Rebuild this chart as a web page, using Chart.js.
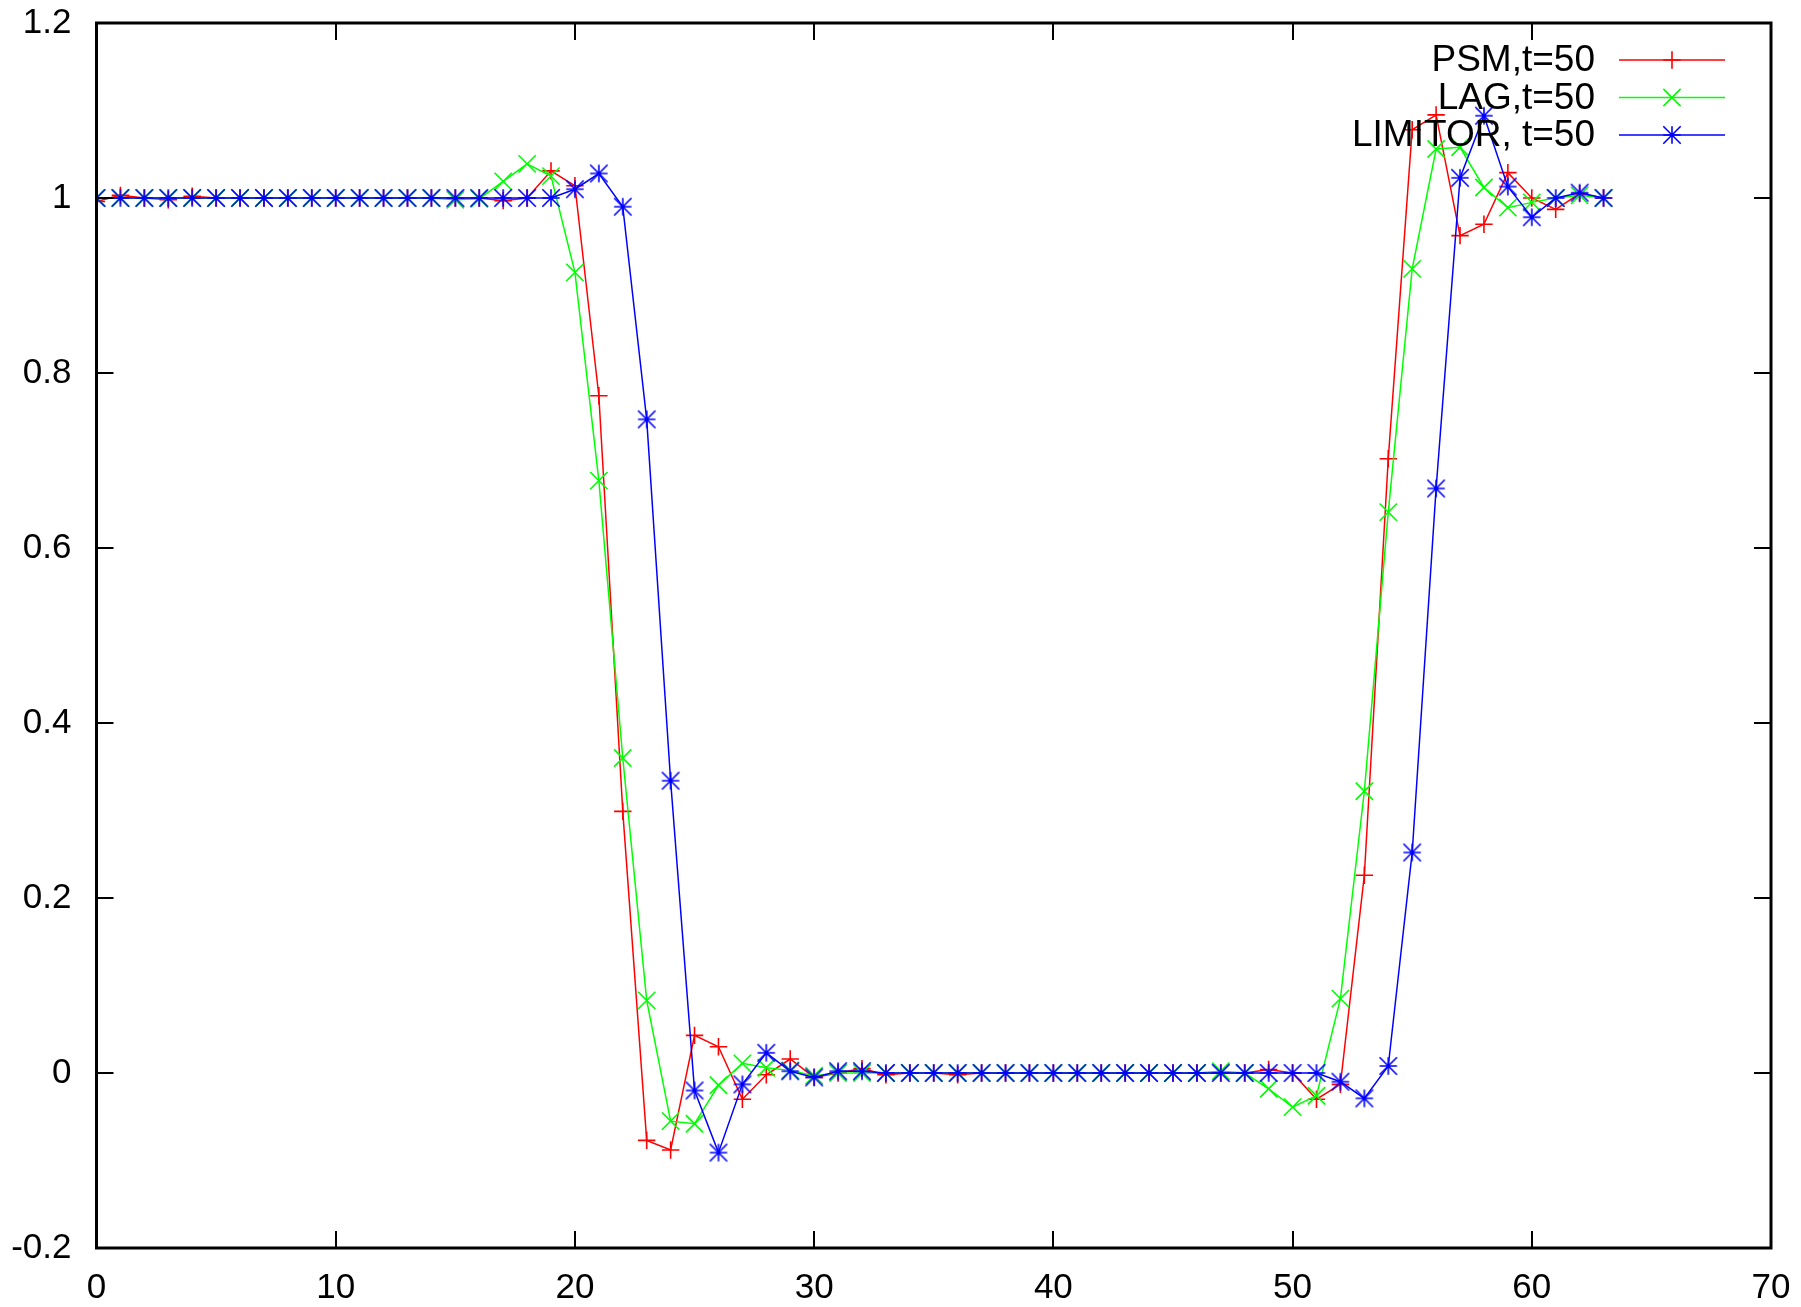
<!DOCTYPE html>
<html>
<head>
<meta charset="utf-8">
<title>PSM / LAG / LIMITOR t=50</title>
<script src="https://cdn.jsdelivr.net/npm/chart.js@4.4.1/dist/chart.umd.min.js"></script>
<style>
  html, body { margin: 0; padding: 0; background: #fff; }
  canvas { display: block; }
</style>
</head>
<body>
<canvas id="grafico" width="1801" height="1307"></canvas>
<script>
// datos (x = 0..63)
const xs = [];
for (let i = 0; i <= 63; i++) xs.push(i);

const psm = [
  0.996, 1.003, 1.0, 0.998, 1.002, 1.0, 1.0, 1.0, 1.0, 1.0,
  1.0, 1.0, 1.0, 1.0, 1.0, 1.0, 1.0, 0.997, 1.0, 1.031,
  1.014, 0.774, 0.299, -0.077, -0.088, 0.043, 0.030, -0.030, -0.002, 0.016,
  -0.005, 0.0, 0.005, -0.002, 0.0, 0.0, -0.002, 0.0, 0.0, 0.0,
  0.0, 0.0, 0.0, 0.0, 0.0, 0.0, 0.0, 0.0, 0.0, 0.004,
  0.0, -0.030, -0.013, 0.226, 0.702, 1.078, 1.095, 0.957, 0.970, 1.029,
  1.0, 0.987, 1.005, 1.0
];

const lag = [
  1.0, 1.0, 1.0, 1.0, 1.0, 1.0, 1.0, 1.0, 1.0, 1.0,
  1.0, 1.0, 1.0, 1.0, 1.0, 0.998, 0.999, 1.019, 1.039, 1.025,
  0.915, 0.677, 0.360, 0.083, -0.055, -0.058, -0.014, 0.011, 0.006, 0.003,
  -0.003, 0.0, 0.0, 0.0, 0.0, 0.0, 0.0, 0.0, 0.0, 0.0,
  0.0, 0.0, 0.0, 0.0, 0.0, 0.0, 0.0, 0.002, 0.0, -0.018,
  -0.039, -0.026, 0.085, 0.322, 0.641, 0.919, 1.056, 1.058, 1.012, 0.989,
  0.995, 1.0, 1.003, 1.0
];

const limitor = [
  1.0, 1.0, 1.0, 1.0, 1.0, 1.0, 1.0, 1.0, 1.0, 1.0,
  1.0, 1.0, 1.0, 1.0, 1.0, 1.0, 1.0, 1.0, 1.0, 1.0,
  1.010, 1.028, 0.990, 0.747, 0.334, -0.020, -0.091, -0.013, 0.023, 0.002,
  -0.005, 0.002, 0.002, 0.0, 0.0, 0.0, 0.0, 0.0, 0.0, 0.0,
  0.0, 0.0, 0.0, 0.0, 0.0, 0.0, 0.0, 0.0, 0.0, 0.0,
  0.0, 0.0, -0.010, -0.029, 0.008, 0.252, 0.668, 1.023, 1.094, 1.013,
  0.978, 1.0, 1.006, 1.0
];

const etiquetas = ["PSM,t=50", "LAG,t=50", "LIMITOR, t=50"];
const xTicks = [0, 10, 20, 30, 40, 50, 60, 70];
const yTicks = [-0.2, 0, 0.2, 0.4, 0.6, 0.8, 1, 1.2];

const fuente = "'Liberation Sans', Arial, sans-serif";

function puntos(serie) {
  return xs.map((x, i) => ({ x: x, y: serie[i] }));
}

// asterisco de gnuplot: las diagonales llegan a las esquinas de la caja
function crearAsterisco(color, r) {
  const lado = Math.ceil(2 * r + 4);
  const c = document.createElement("canvas");
  c.width = c.height = lado;
  const g = c.getContext("2d");
  const m = lado / 2;
  g.strokeStyle = color;
  g.lineWidth = 1.6;
  g.beginPath();
  g.moveTo(m - r, m); g.lineTo(m + r, m);
  g.moveTo(m, m - r); g.lineTo(m, m + r);
  g.moveTo(m - r, m - r); g.lineTo(m + r, m + r);
  g.moveTo(m - r, m + r); g.lineTo(m + r, m - r);
  g.stroke();
  return c;
}

// marco estilo gnuplot: borde en los cuatro lados y ticks hacia dentro
const marcoPlugin = {
  id: "marco",
  afterDatasetsDraw(chart) {
    const ctx = chart.ctx;
    const a = chart.chartArea;
    const sx = chart.scales.x;
    const sy = chart.scales.y;
    const largo = 17;

    ctx.save();
    ctx.strokeStyle = "#000";
    ctx.lineWidth = 3;
    ctx.lineCap = "butt";
    ctx.strokeRect(a.left, a.top, a.right - a.left, a.bottom - a.top);

    ctx.lineWidth = 2;
    ctx.beginPath();
    xTicks.forEach(v => {
      const px = Math.round(sx.getPixelForValue(v));
      ctx.moveTo(px, a.bottom);
      ctx.lineTo(px, a.bottom - largo);
      ctx.moveTo(px, a.top);
      ctx.lineTo(px, a.top + largo);
    });
    yTicks.forEach(v => {
      const py = Math.round(sy.getPixelForValue(v));
      ctx.moveTo(a.left, py);
      ctx.lineTo(a.left + largo, py);
      ctx.moveTo(a.right, py);
      ctx.lineTo(a.right - largo, py);
    });
    ctx.stroke();
    ctx.restore();
  }
};

// leyenda: texto alineado a la derecha y muestra de linea con marcador
const leyendaPlugin = {
  id: "leyenda",
  afterDraw(chart) {
    const ctx = chart.ctx;
    const textoX = 1595;
    const linea0 = 1619;
    const linea1 = 1725;
    const y0 = 60;
    const paso = 37.5;

    ctx.save();
    ctx.font = "37px " + fuente;
    ctx.textAlign = "right";
    ctx.textBaseline = "middle";

    chart.data.datasets.forEach((ds, i) => {
      const y = y0 + i * paso;
      ctx.fillStyle = "#000";
      ctx.fillText(ds.label, textoX, y + 1);

      ctx.strokeStyle = ds.borderColor;
      ctx.lineWidth = ds.borderWidth;
      ctx.beginPath();
      ctx.moveTo(linea0, y);
      ctx.lineTo(linea1, y);
      ctx.stroke();

      ctx.lineWidth = ds.pointBorderWidth;
      Chart.helpers.drawPoint(ctx, {
        pointStyle: ds.pointStyle,
        radius: ds.pointRadius,
        rotation: 0,
        borderWidth: ds.pointBorderWidth
      }, Math.round((linea0 + linea1) / 2), y);
    });
    ctx.restore();
  }
};

function serie(label, datos, color, estilo, radio, orden) {
  return {
    label: label,
    data: puntos(datos),
    borderColor: color,
    backgroundColor: color,
    borderWidth: 1.5,
    pointStyle: estilo,
    pointRadius: radio,
    pointBorderWidth: 1.6,
    pointBorderColor: color,
    tension: 0,
    fill: false,
    order: orden
  };
}

const ctx = document.getElementById("grafico").getContext("2d");

new Chart(ctx, {
  type: "line",
  data: {
    datasets: [
      serie(etiquetas[0], psm, "#ff0000", "cross", 8.7, 3),
      serie(etiquetas[1], lag, "#00ff00", "crossRot", 12.2, 2),
      serie(etiquetas[2], limitor, "#0000ff", crearAsterisco("#0000ff", 8.7), 8.7, 1)
    ]
  },
  options: {
    responsive: false,
    devicePixelRatio: 1,
    animation: false,
    layout: { padding: { top: 23, right: 30, left: 0, bottom: 0 } },
    plugins: {
      legend: { display: false },
      tooltip: { enabled: false }
    },
    scales: {
      x: {
        type: "linear",
        min: 0,
        max: 70,
        afterBuildTicks: s => { s.ticks = xTicks.map(v => ({ value: v })); },
        afterFit: s => {
          s.height = 59;
          s.paddingLeft = 0;
          s.paddingRight = 0;
        },
        grid: { display: false, drawTicks: false },
        border: { display: false },
        ticks: {
          color: "#000",
          padding: 19,
          maxRotation: 0,
          font: { family: fuente, size: 35 }
        }
      },
      y: {
        type: "linear",
        min: -0.2,
        max: 1.2,
        afterBuildTicks: s => { s.ticks = yTicks.map(v => ({ value: v })); },
        afterFit: s => {
          s.width = 96.5;
          s.paddingTop = 0;
          s.paddingBottom = 0;
        },
        grid: { display: false, drawTicks: false },
        border: { display: false },
        ticks: {
          color: "#000",
          padding: 25,
          font: { family: fuente, size: 35 },
          callback: v => String(Math.round(v * 10) / 10)
        }
      }
    }
  },
  plugins: [marcoPlugin, leyendaPlugin]
});
</script>
</body>
</html>
